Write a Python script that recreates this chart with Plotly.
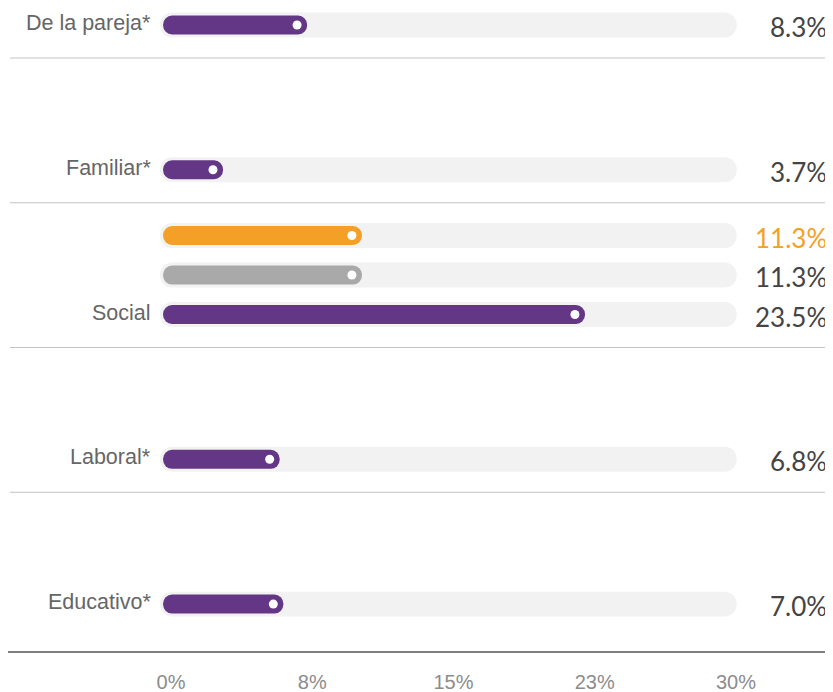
import plotly.graph_objects as go

# ---------------- data ----------------
categories = ["De la pareja*", "Familiar*", "Social", "Laboral*", "Educativo*"]
main_values = [8.3, 3.7, 23.5, 6.8, 7.0]          # purple series
gray_values = [None, None, 11.3, None, None]       # gray comparison series
orange_values = [None, None, 11.3, None, None]     # orange comparison series
tick_vals = [0, 7.5, 15, 22.5, 30]
tick_labels = ["0%", "8%", "15%", "23%", "30%"]

# ---------------- styling / layout constants ----------------
# the page body has an 8px margin, so the figure is sized to fit the window
W, H = 825, 684
PLOT_B = 40
PLOT_H = H - PLOT_B
PURPLE = "#633785"
GRAY = "#a9a9aa"
ORANGE = "#f4a026"
TRACK = "#f2f2f2"
BAR_ZERO_PX = 147.4      # pixel position of 0 % for bars (inside figure)
PX_PER_PCT = 18.28       # bar scale
TICK_ZERO_PX = 163.0     # pixel position of the 0 % tick label
TICK_PX_PER_PCT = 18.83  # tick-label scale
ROW_PX = 39.5
FIRST_ROW_PX = 17.0
GROUP = 3.665            # rows between groups
BAR_W = 0.48
TRACK_W = 0.63
BAR_BASE = 0.42
TRACK_BASE = 0.25
TRACK_END = 31.8
DOT_INSET = 0.55

n = len(categories)
y_main = [g * GROUP for g in range(n)]
y_gray = [g * GROUP - 1 for g in range(n)]
y_orange = [g * GROUP - 2 for g in range(n)]

fig = go.Figure()

# background tracks
track_y = list(y_main)
for g in range(n):
    if gray_values[g] is not None:
        track_y.append(y_gray[g])
    if orange_values[g] is not None:
        track_y.append(y_orange[g])
fig.add_trace(go.Bar(
    orientation="h", y=track_y, x=[TRACK_END - TRACK_BASE] * len(track_y),
    base=TRACK_BASE, width=TRACK_W,
    marker=dict(color=TRACK, cornerradius="50%", line=dict(width=0)),
    hoverinfo="skip"))


def add_series(values, ys, color):
    xs = [v for v in values if v is not None]
    yy = [y for v, y in zip(values, ys) if v is not None]
    fig.add_trace(go.Bar(
        orientation="h", y=yy, x=[v - BAR_BASE for v in xs], base=BAR_BASE,
        width=BAR_W,
        marker=dict(color=color, cornerradius="50%", line=dict(width=0)),
        hoverinfo="skip"))
    fig.add_trace(go.Scatter(
        x=[v - DOT_INSET for v in xs], y=yy, mode="markers",
        marker=dict(color="white", size=9, line=dict(width=0)),
        hoverinfo="skip"))


add_series(main_values, y_main, PURPLE)
add_series(gray_values, y_gray, GRAY)
add_series(orange_values, y_orange, ORANGE)

# empty trace to attach the tick axis
fig.add_trace(go.Scatter(x=[], y=[], xaxis="x2", yaxis="y", showlegend=False))

annotations = []
for g, cat in enumerate(categories):
    annotations.append(dict(
        x=145 / W, xref="paper", y=y_main[g], yref="y", text=cat,
        xanchor="right", yanchor="middle", showarrow=False, yshift=2,
        font=dict(family="Liberation Sans, Arial", size=21.5, color="#666666")))

for values, ys, col in [(main_values, y_main, "#444444"),
                        (gray_values, y_gray, "#444444"),
                        (orange_values, y_orange, ORANGE)]:
    for v, y in zip(values, ys):
        if v is None:
            continue
        annotations.append(dict(
            x=821 / W, xref="paper", y=y, yref="y", text=f"{v:.1f}%",
            xanchor="right", yanchor="middle", showarrow=False, yshift=-2,
            font=dict(family="Lato, sans-serif", size=26, color=col)))

shapes = []
for g in range(n - 1):
    shapes.append(dict(
        type="line", xref="paper", yref="y", x0=2 / W, x1=818 / W,
        y0=y_main[g] + 0.835, y1=y_main[g] + 0.835,
        line=dict(color="#c4c4c4", width=1)))
shapes.append(dict(
    type="line", xref="paper", yref="paper", x0=0, x1=818 / W,
    y0=0, y1=0, line=dict(color="#555555", width=1.5)))

y_top = -FIRST_ROW_PX / ROW_PX
y_bottom = y_top + PLOT_H / ROW_PX

fig.update_layout(
    width=W, height=H,
    margin=dict(l=0, r=0, t=0, b=PLOT_B),
    paper_bgcolor="white", plot_bgcolor="white",
    showlegend=False, barmode="overlay",
    xaxis=dict(range=[-BAR_ZERO_PX / PX_PER_PCT, (W - BAR_ZERO_PX) / PX_PER_PCT],
               visible=False, fixedrange=True),
    xaxis2=dict(range=[-TICK_ZERO_PX / TICK_PX_PER_PCT, (W - TICK_ZERO_PX) / TICK_PX_PER_PCT],
                overlaying="x", anchor="y", side="bottom",
                tickmode="array", tickvals=tick_vals, ticktext=tick_labels,
                showgrid=False, zeroline=False, showline=False,
                ticks="outside", ticklen=12, tickcolor="rgba(0,0,0,0)",
                tickfont=dict(family="Liberation Sans, Arial", size=20, color="#8c8c8c"),
                automargin=False, fixedrange=True),
    yaxis=dict(range=[y_bottom, y_top], visible=False, fixedrange=True),
    annotations=annotations, shapes=shapes,
)

fig.write_html("out.html")
